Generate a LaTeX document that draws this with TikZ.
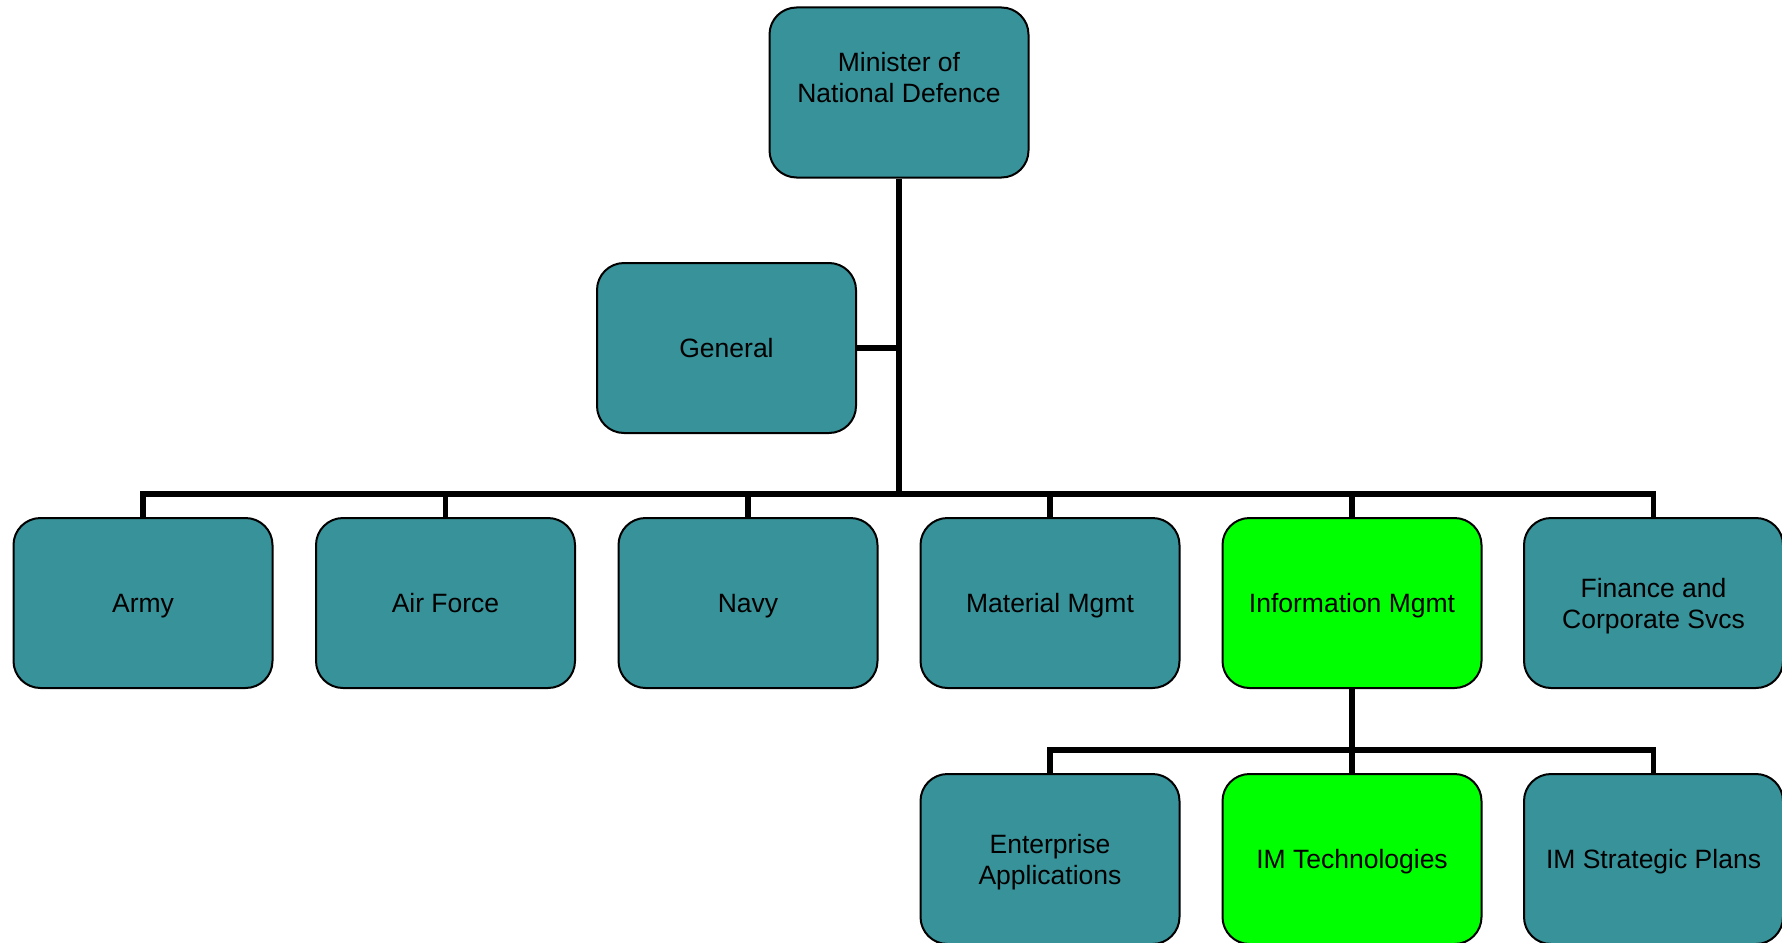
\documentclass[tikz,border=0pt]{standalone}
\usepackage{fontspec}
\setmainfont{Liberation Sans}
\definecolor{teal1}{RGB}{55,146,153}
\definecolor{green1}{RGB}{0,255,0}
\newcommand{\mystrut}{\rule[-6pt]{0pt}{31pt}}
\begin{document}
\begin{tikzpicture}[x=1pt,y=-1pt,
  box/.style={draw=black,line width=2pt,fill=teal1,rounded corners=27pt,
    minimum width=259pt,minimum height=170pt,align=center,
    font=\fontsize{26.5}{31}\selectfont,inner sep=0pt},
  hi/.style={box,fill=green1},
  conn/.style={line width=5.5pt,draw=black}]
\useasboundingbox (0,0) rectangle (1782,942);
\clip (0,0) rectangle (1782,942);
\node[box] (minister) at (899,92.5) {\mystrut Minister of\\\mystrut National Defence\\\mystrut~};
\node[box] (general) at (726.5,348) {\mystrut General};
\node[box] (army) at (143,603) {\mystrut Army};
\node[box] (airforce) at (445.5,603) {\mystrut Air Force};
\node[box] (navy) at (748,603) {\mystrut Navy};
\node[box] (material) at (1050,603) {\mystrut Material Mgmt};
\node[hi] (info) at (1352,603) {\mystrut Information Mgmt};
\node[box] (finance) at (1653.5,603) {\mystrut Finance and\\\mystrut Corporate Svcs};
\node[box] (enterprise) at (1050,859) {\mystrut Enterprise\\\mystrut Applications};
\node[hi] (imtech) at (1352,859) {\mystrut IM Technologies};
\node[box] (strategic) at (1653.5,859) {\mystrut IM Strategic Plans};
\coordinate (bus1) at (899,494);
\coordinate (bus2) at (1352,750);
\draw[conn] (minister.south) -- (bus1);
\draw[conn] (general.east) -- (general.east -| minister.south);
\draw[conn] (army.north) |- (bus1) -| (finance.north);
\draw[conn] (airforce.north) -- (airforce.north |- bus1);
\draw[conn] (navy.north) -- (navy.north |- bus1);
\draw[conn] (material.north) -- (material.north |- bus1);
\draw[conn] (info.north) -- (info.north |- bus1);
\draw[conn] (info.south) -- (bus2);
\draw[conn] (enterprise.north) |- (bus2) -| (strategic.north);
\draw[conn] (imtech.north) -- (bus2);
\end{tikzpicture}
\end{document}
